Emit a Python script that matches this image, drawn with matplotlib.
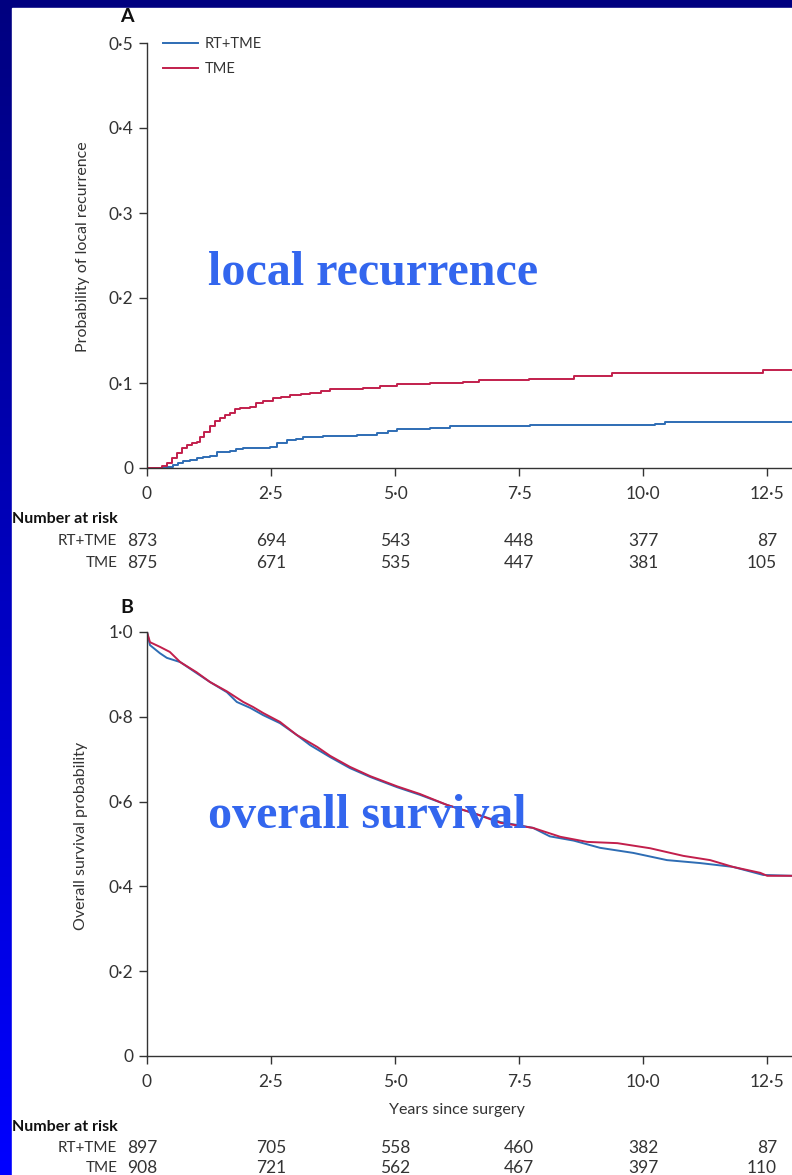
import numpy as np
import matplotlib
matplotlib.use('Agg')
import matplotlib.pyplot as plt
from matplotlib.patches import Rectangle
from matplotlib.ticker import FuncFormatter

plt.rcParams['font.family'] = ['Lato', 'DejaVu Sans']

# local recurrence (panel A)
lr_tme_t = [0, 0.3, 0.4, 0.5, 0.6, 0.7, 0.8, 0.9, 1.0, 1.07, 1.15, 1.27, 1.37, 1.47, 1.57,
            1.67, 1.78, 1.88, 2.08, 2.2, 2.34, 2.54, 2.7, 2.88, 3.1, 3.29, 3.5, 3.69, 4.35,
            4.7, 5.04, 5.7, 6.37, 6.7, 7.7, 8.6, 9.38, 12.42, 13.0]
lr_tme_p = [0, 0.002, 0.006, 0.012, 0.018, 0.024, 0.027, 0.029, 0.031, 0.036, 0.042, 0.050,
            0.055, 0.059, 0.062, 0.065, 0.069, 0.071, 0.072, 0.076, 0.079, 0.082, 0.084,
            0.086, 0.087, 0.088, 0.091, 0.093, 0.094, 0.096, 0.099, 0.100, 0.101, 0.103,
            0.105, 0.108, 0.112, 0.115, 0.115]
lr_rt_t = [0, 0.4, 0.52, 0.63, 0.73, 0.87, 1.0, 1.13, 1.27, 1.41, 1.67, 1.8, 1.94, 2.48,
           2.62, 2.82, 3.0, 3.15, 3.55, 4.23, 4.64, 4.85, 5.04, 5.7, 6.11, 6.37, 7.72,
           10.24, 10.44, 13.0]
lr_rt_p = [0, 0.001, 0.004, 0.006, 0.008, 0.010, 0.012, 0.013, 0.014, 0.019, 0.020, 0.022,
           0.024, 0.025, 0.029, 0.033, 0.034, 0.036, 0.038, 0.039, 0.041, 0.044, 0.046,
           0.047, 0.049, 0.050, 0.051, 0.052, 0.054, 0.054]

# overall survival (panel B)
os_rt_t = [0, 0.06, 0.26, 0.4, 0.67, 1.0, 1.27, 1.61, 1.81, 2.08, 2.34, 2.68, 3.02, 3.29,
           3.69, 4.09, 4.5, 5.04, 5.5, 6.05, 6.6, 7.12, 7.78, 8.12, 8.6, 9.13, 9.8, 10.48,
           11.15, 11.81, 12.42, 13.0]
os_rt_p = [1.0, 0.969, 0.95, 0.939, 0.929, 0.903, 0.882, 0.858, 0.835, 0.821, 0.804, 0.785,
           0.757, 0.733, 0.705, 0.679, 0.658, 0.634, 0.616, 0.592, 0.572, 0.552, 0.538,
           0.518, 0.508, 0.491, 0.479, 0.462, 0.455, 0.446, 0.427, 0.425]
os_tme_t = [0, 0.06, 0.26, 0.46, 0.67, 1.0, 1.27, 1.61, 1.94, 2.14, 2.34, 2.68, 3.02, 3.43,
            3.69, 4.09, 4.5, 5.04, 5.5, 6.05, 6.6, 7.12, 7.78, 8.33, 8.87, 9.48, 10.14,
            10.81, 11.35, 11.81, 12.36, 12.5, 13.0]
os_tme_p = [1.0, 0.976, 0.965, 0.953, 0.929, 0.905, 0.882, 0.86, 0.835, 0.823, 0.809, 0.788,
            0.757, 0.729, 0.708, 0.682, 0.66, 0.636, 0.618, 0.592, 0.572, 0.55, 0.538, 0.517,
            0.505, 0.502, 0.49, 0.472, 0.462, 0.446, 0.432, 0.425, 0.425]

risk_times = [0, 2.5, 5.0, 7.5, 10.0, 12.5]
risk_a_rt = [873, 694, 543, 448, 377, 87]
risk_a_tme = [875, 671, 535, 447, 381, 105]
risk_b_rt = [897, 705, 558, 460, 382, 87]
risk_b_tme = [908, 721, 562, 467, 397, 110]

BLUE = '#2e6db4'
RED = '#c21f4c'
GREY = '#333333'
OVERLAY = '#3366ee'

fig = plt.figure(figsize=(7.92, 11.75), dpi=100)

# slide background: navy->blue strip on the left, navy on top
bg = fig.add_axes([0, 0, 1, 1], zorder=-10)
grad = np.linspace(0, 1, 256).reshape(-1, 1)
cmap = matplotlib.colors.LinearSegmentedColormap.from_list('bg', ['#000080', '#0000ff'])
bg.imshow(grad, aspect='auto', cmap=cmap, extent=[0, 1, 0, 1], origin='upper')
bg.add_patch(Rectangle((12 / 792, 0), 1, 1 - 8 / 1175, color='white'))
bg.set_xlim(0, 1)
bg.set_ylim(0, 1)
bg.axis('off')


def fmt(v, pos):
    if abs(v) < 1e-9:
        return '0'
    return f'{v:.1f}'.replace('.', '\u00b7')


def style(ax, ymax, ystep):
    ax.set_xlim(0, 13.0)
    ax.set_ylim(0, ymax)
    ax.set_xticks(risk_times)
    ax.set_yticks(np.arange(0, ymax + 1e-9, ystep))
    ax.xaxis.set_major_formatter(FuncFormatter(fmt))
    ax.yaxis.set_major_formatter(FuncFormatter(fmt))
    for s in ['top', 'right']:
        ax.spines[s].set_visible(False)
    for s in ['left', 'bottom']:
        ax.spines[s].set_color(GREY)
        ax.spines[s].set_linewidth(1.0)
    ax.tick_params(direction='out', length=6, width=1.0, color=GREY,
                   labelcolor=GREY, labelsize=12.5)
    ax.tick_params(axis='x', pad=7)
    ax.tick_params(axis='y', pad=4)
    ax.set_facecolor('none')


def risk_table(ax, ys, rt, tme):
    tr = ax.get_xaxis_transform()
    ax.text(-2.72, ys[0], 'Number at risk', transform=tr,
            ha='left', va='center', fontsize=11.5, fontweight='bold', color='#111111')
    for name, vals, yy in [('RT+TME', rt, ys[1]), ('TME', tme, ys[2])]:
        ax.text(-0.6, yy, name, transform=tr,
                ha='right', va='center', fontsize=11, color=GREY)
        for t, n in zip(risk_times, vals):
            if t == risk_times[-1]:
                ax.text(t + 0.2, yy, str(n), transform=tr, ha='right', va='center',
                        fontsize=12.5, color=GREY)
            elif t == 0:
                ax.text(-0.1, yy, str(n), transform=tr, ha='center', va='center',
                        fontsize=12.5, color=GREY)
            else:
                ax.text(t, yy, str(n), transform=tr, ha='center', va='center',
                        fontsize=12.5, color=GREY)


# panel A
axA = fig.add_axes([147 / 792, 1 - 468 / 1175, 645 / 792, 425 / 1175])
axA.step(lr_rt_t, lr_rt_p, where='post', color=BLUE, lw=1.4, label='RT+TME')
axA.step(lr_tme_t, lr_tme_p, where='post', color=RED, lw=1.4, label='TME')
style(axA, 0.5, 0.1)
axA.set_ylabel('Probability of local recurrence', fontsize=11.5, color=GREY)
axA.yaxis.set_label_coords(-0.088, 0.52)
axA.legend(loc='upper left', bbox_to_anchor=(0.016, 1.028), frameon=False, fontsize=10.5,
           handlelength=2.4, handletextpad=0.45, labelspacing=0.75, borderaxespad=0,
           labelcolor=GREY)
axA.text(-0.4, 1.063, 'A', transform=axA.get_xaxis_transform(), ha='center', va='center',
         fontsize=14, fontweight='bold', color='#111111')
risk_table(axA, [-0.12, -0.172, -0.224], risk_a_rt, risk_a_tme)

# panel B
axB = fig.add_axes([147 / 792, 1 - 1056 / 1175, 645 / 792, 424 / 1175])
axB.plot(os_rt_t, os_rt_p, color=BLUE, lw=1.4)
axB.plot(os_tme_t, os_tme_p, color=RED, lw=1.4)
style(axB, 1.0, 0.2)
axB.set_ylabel('Overall survival probability', fontsize=11.5, color=GREY)
axB.yaxis.set_label_coords(-0.091, 0.52)
axB.text(6.25, -0.127, 'Years since surgery', transform=axB.get_xaxis_transform(),
         ha='center', va='center', fontsize=11.5, color=GREY)
axB.text(-0.4, 1.058, 'B', transform=axB.get_xaxis_transform(), ha='center', va='center',
         fontsize=14, fontweight='bold', color='#111111')
risk_table(axB, [-0.167, -0.217, -0.265], risk_b_rt, risk_b_tme)

# slide overlay labels
fig.text(208 / 792, 1 - 285 / 1175, 'local recurrence', family='Liberation Serif',
         fontweight='bold', fontsize=34.6, color=OVERLAY, ha='left', va='baseline')
fig.text(208 / 792, 1 - 828 / 1175, 'overall survival', family='Liberation Serif',
         fontweight='bold', fontsize=34.6, color=OVERLAY, ha='left', va='baseline')

fig.savefig('out.png', dpi=100)
